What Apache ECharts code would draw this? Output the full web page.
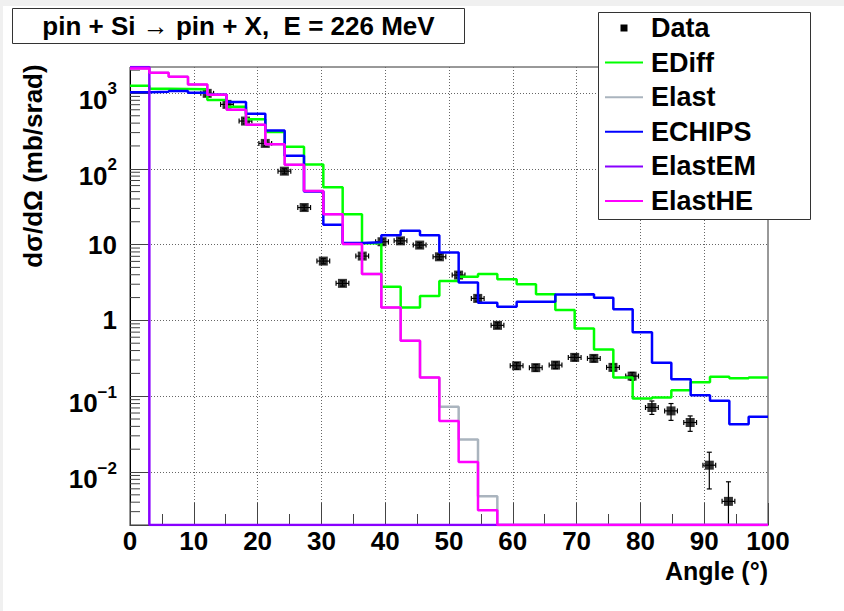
<!DOCTYPE html>
<html><head><meta charset="utf-8">
<script src="https://cdn.jsdelivr.net/npm/echarts@6/dist/echarts.min.js"></script>
<style>html,body{margin:0;padding:0;background:#fff;}#c{width:844px;height:611px;}</style>
</head><body><div id="c"></div>
<script>
// ---- binning (33 equal bins from 0 to 100 deg) ----
const binCount = 33;
const xMin = 0, xMax = 100;
const binEdges = Array.from({length: binCount + 1}, (_, k) => xMin + k * (xMax - xMin) / binCount);

// ---- histogram values per bin (mb/srad) ----
const ediff = [1245, 1140, 1130, 1120, 806, 657, 450, 305, 195, 114, 57, 25.2, 10.4, 2.77, 1.48, 2.09, 3.30, 3.76, 4.08, 3.48, 2.99, 2.22, 1.37, 0.784, 0.414, 0.177, 0.0935, 0.0964, 0.120, 0.153, 0.180, 0.172, 0.177];
const elast = [2110, 1850, 1630, 1290, 950, 600, 380, 210, 113, 51, 25.2, 10.2, 4.08, 1.48, 0.538, 0.177, 0.0725, 0.0269, 0.0048, 0, 0, 0, 0, 0, 0, 0, 0, 0, 0, 0, 0, 0, 0];
const echips = [1025, 1035, 1060, 1010, 950, 758, 530, 320, 148, 50, 18.3, 10.5, 10.7, 13.3, 15.2, 13.3, 7.89, 3.17, 1.71, 1.51, 1.76, 1.76, 2.20, 2.22, 1.99, 1.40, 0.695, 0.276, 0.167, 0.103, 0.087, 0.0428, 0.0535];
const elastEM = [3000, 0, 0, 0, 0, 0, 0, 0, 0, 0, 0, 0, 0, 0, 0, 0, 0, 0, 0, 0, 0, 0, 0, 0, 0, 0, 0, 0, 0, 0, 0, 0, 0];
const elastHE = [2110, 1850, 1630, 1290, 950, 600, 380, 210, 113, 51, 25.2, 10.2, 4.08, 1.48, 0.538, 0.177, 0.047, 0.0136, 0.00314, 0, 0, 0, 0, 0, 0, 0, 0, 0, 0, 0, 0, 0, 0];

// ---- measured data ----
const dataAngle = [12.1, 15.2, 18.1, 21.2, 24.2, 27.3, 30.3, 33.3, 36.4, 39.5, 42.4, 45.4, 48.5, 51.5, 54.5, 57.6, 60.6, 63.6, 66.7, 69.7, 72.7, 75.7, 78.7, 81.8, 84.8, 87.8, 90.8, 93.8];
const dataValue = [988, 707, 426, 216, 93, 30.8, 6.06, 3.08, 7.05, 10.9, 11.2, 9.85, 6.9, 3.96, 1.95, 0.86, 0.252, 0.238, 0.257, 0.325, 0.315, 0.24, 0.184, 0.071, 0.064, 0.045, 0.0123, 0.0041];
const dataLow  = [910, 650, 392, 199, 85.6, 28.3, 5.58, 2.83, 6.49, 10.0, 10.3, 9.06, 6.35, 3.64, 1.79, 0.79, 0.227, 0.214, 0.231, 0.293, 0.284, 0.216, 0.162, 0.0575, 0.048, 0.0344, 0.00598, 0.0015];
const dataHigh = [1066, 764, 460, 233, 100, 33.3, 6.54, 3.33, 7.61, 11.8, 12.1, 10.6, 7.45, 4.28, 2.11, 0.93, 0.277, 0.262, 0.283, 0.357, 0.347, 0.264, 0.206, 0.0865, 0.080, 0.0549, 0.01824, 0.00743];
const angleErr = 1.0;

// ---- axes ----
const yMin = 0.002, yMax = 2200;
const xTickInterval = 10;

const seriesNames = ['EDiff', 'Elast', 'ECHIPS', 'ElastEM', 'ElastHE'];
const seriesColors = ['#00ff00', '#aab4be', '#0000ff', '#8800ff', '#ff00ff'];
const seriesValues = [ediff, elast, echips, elastEM, elastHE];

const FONT = "'Liberation Sans', Arial, Helvetica, sans-serif";

function clampY(v) { return v <= yMin ? yMin : (v > yMax ? yMax : v); }
function histData(vals) {
  const pts = vals.map((v, k) => [binEdges[k], clampY(v)]);
  pts.push([binEdges[binCount], clampY(vals[binCount - 1])]);
  return pts;
}

// minor tick positions of the log axis (2..9 x 10^k)
const minorYTicks = [];
for (let e = -3; e <= 3; e++) for (let m = 2; m <= 9; m++) {
  const v = +(m * Math.pow(10, e)).toPrecision(6);
  if (v > yMin && v < yMax) minorYTicks.push(v);
}

const chart = echarts.init(document.getElementById('c'), null, {renderer: 'svg', width: 844, height: 611});

const histSeries = seriesValues.map((vals, i) => ({
  name: seriesNames[i], type: 'line', step: 'end', data: histData(vals),
  symbol: 'none', showSymbol: false, clip: true, silent: true, animation: false,
  lineStyle: {color: seriesColors[i], width: 2.5}, z: 3
}));

const legendItems = ['Data'].concat(seriesNames);
const legendGraphics = [{type: 'rect', shape: {x: 598.5, y: 12.5, width: 212, height: 207}, style: {fill: '#fff', stroke: '#333', lineWidth: 1}, z: 10}];
legendItems.forEach((name, i) => {
  const yc = 28 + i * 34.6;
  if (i === 0) {
    legendGraphics.push({type: 'rect', shape: {x: 620.5, y: yc - 3.5, width: 7, height: 7}, style: {fill: '#000'}, z: 11});
  } else {
    legendGraphics.push({type: 'line', shape: {x1: 605, y1: yc, x2: 643, y2: yc}, style: {stroke: seriesColors[i - 1], lineWidth: 2}, z: 11});
  }
  legendGraphics.push({type: 'text', x: 651, y: yc, z: 11,
    style: {text: name, font: 'bold 27px ' + FONT, fill: '#000', textAlign: 'left', textVerticalAlign: 'middle'}});
});

const option = {
  animation: false,
  backgroundColor: '#ffffff',
  grid: {left: 130, right: 76, top: 67, bottom: 86, show: true, borderColor: '#333', borderWidth: 1, backgroundColor: '#fff'},
  xAxis: {
    type: 'value', min: xMin, max: xMax, interval: xTickInterval,
    axisLine: {show: true, lineStyle: {color: '#000', width: 1}},
    axisTick: {show: true, inside: true, length: 22, lineStyle: {color: '#444', width: 1}},
    minorTick: {show: true, splitNumber: 2, length: 11, lineStyle: {color: '#444', width: 1}},
    splitLine: {show: true, showMinLine: false, showMaxLine: false, lineStyle: {color: '#666', width: 1, type: [1, 2]}},
    axisLabel: {show: true, margin: 6, lineHeight: 20, color: '#000', fontSize: 26, fontWeight: 'bold', fontFamily: FONT}
  },
  yAxis: {
    type: 'log', logBase: 10, min: yMin, max: yMax,
    axisLine: {show: true, lineStyle: {color: '#000', width: 1}},
    axisTick: {show: true, inside: true, length: 20, lineStyle: {color: '#444', width: 1}},
    minorTick: {show: false},
    splitLine: {show: true, showMinLine: false, showMaxLine: false, lineStyle: {color: '#666', width: 1, type: [1, 2]}},
    axisLabel: {
      show: true, margin: 13, color: '#000', fontFamily: FONT,
      formatter: function (v) {
        const e = Math.log10(v), r = Math.round(e);
        if (Math.abs(e - r) > 1e-6) return '';
        if (r === 0) return '{b|1}';
        if (r === 1) return '{b|10}';
        return '{p|10}{s|' + (r < 0 ? '\u2212' + (-r) : r) + '}';
      },
      rich: {
        b: {fontSize: 26, fontWeight: 'bold', fontFamily: FONT, color: '#000'},
        p: {fontSize: 26, fontWeight: 'bold', fontFamily: FONT, color: '#000', padding: [14, 0, 0, 0]},
        s: {fontSize: 17, fontWeight: 'bold', fontFamily: FONT, color: '#000', padding: [0, 0, 8, 0]}
      }
    }
  },
  series: [
    {
      name: 'Data', type: 'scatter', data: dataAngle.map((a, i) => [a, dataValue[i]]),
      symbol: 'rect', symbolSize: 9, itemStyle: {color: '#000'}, silent: true, z: 2
    },
    {
      name: 'DataErr', type: 'custom', silent: true, z: 2,
      data: dataAngle.map((a, i) => [a, dataValue[i], dataLow[i], dataHigh[i]]),
      renderItem: function (params, api) {
        const x = api.value(0), y = api.value(1), lo = api.value(2), hi = api.value(3);
        const cs = params.coordSys;
        const bot = cs.y + cs.height;
        const pl = api.coord([x - angleErr, y]), pr = api.coord([x + angleErr, y]);
        const pLo = api.coord([x, Math.max(lo, yMin)]), pHi = api.coord([x, Math.min(hi, yMax)]);
        const cap = 2.5, st = {stroke: '#000', lineWidth: 1.2};
        const ch = [
          {type: 'line', shape: {x1: pl[0], y1: pl[1], x2: pr[0], y2: pr[1]}, style: st},
          {type: 'line', shape: {x1: pl[0], y1: pl[1] - cap, x2: pl[0], y2: pl[1] + cap}, style: st},
          {type: 'line', shape: {x1: pr[0], y1: pr[1] - cap, x2: pr[0], y2: pr[1] + cap}, style: st},
          {type: 'line', shape: {x1: pLo[0], y1: Math.min(pLo[1], bot), x2: pHi[0], y2: pHi[1]}, style: st},
          {type: 'line', shape: {x1: pHi[0] - cap, y1: pHi[1], x2: pHi[0] + cap, y2: pHi[1]}, style: st}
        ];
        if (lo > yMin) ch.push({type: 'line', shape: {x1: pLo[0] - cap, y1: pLo[1], x2: pLo[0] + cap, y2: pLo[1]}, style: st});
        return {type: 'group', children: ch};
      }
    },
    {
      name: 'yMinorTicks', type: 'custom', silent: true, z: 1,
      data: minorYTicks.map(v => [xMin, v]),
      renderItem: function (params, api) {
        const p = api.coord([api.value(0), api.value(1)]);
        return {type: 'line', shape: {x1: p[0], y1: p[1], x2: p[0] + 10, y2: p[1]}, style: {stroke: '#444', lineWidth: 1}};
      }
    }
  ].concat(histSeries),
  graphic: [
    {type: 'rect', shape: {x: 0, y: 0, width: 844, height: 6}, style: {fill: '#f0f0f0'}, z: 0},
    {type: 'rect', shape: {x: 0, y: 0, width: 3, height: 611}, style: {fill: '#f0f0f0'}, z: 0},
    {type: 'rect', shape: {x: 12.5, y: 8.5, width: 452, height: 35}, style: {fill: '#fff', stroke: '#333', lineWidth: 1}, z: 10},
    {type: 'text', x: 238.5, y: 26, z: 11,
      style: {text: 'pin + Si \u2192 pin + X,  E = 226 MeV', font: 'bold 26px ' + FONT, fill: '#000', textAlign: 'center', textVerticalAlign: 'middle'}},
    {type: 'text', x: 768, y: 571, z: 11,
      style: {text: 'Angle (\u00b0)', font: 'bold 25px ' + FONT, lineHeight: 20, fill: '#000', textAlign: 'right', textVerticalAlign: 'middle'}},
    {type: 'text', x: 33, y: 166, rotation: Math.PI / 2, z: 11,
      style: {text: 'd\u03c3/d\u03a9 (mb/srad)', font: 'bold 26px ' + FONT, fill: '#000', textAlign: 'center', textVerticalAlign: 'middle'}}
  ].concat(legendGraphics)
};
chart.setOption(option);
</script></body></html>
